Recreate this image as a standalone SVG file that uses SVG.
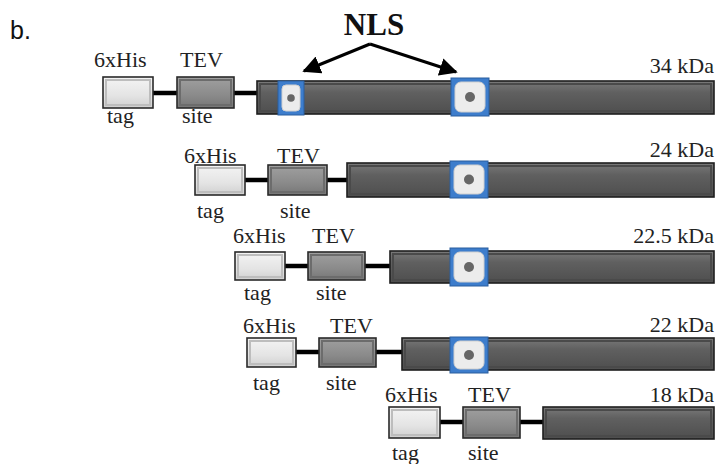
<svg xmlns="http://www.w3.org/2000/svg" width="715" height="464" viewBox="0 0 715 464">
<defs>
<linearGradient id="gTag" x1="0" y1="0" x2="0" y2="1"><stop offset="0" stop-color="#f4f4f4"/><stop offset="0.6" stop-color="#e4e4e4"/><stop offset="1" stop-color="#cfcfcf"/></linearGradient>
<linearGradient id="gTev" x1="0" y1="0" x2="0" y2="1"><stop offset="0" stop-color="#a0a0a0"/><stop offset="0.6" stop-color="#8a8a8a"/><stop offset="1" stop-color="#767676"/></linearGradient>
<linearGradient id="gBar" x1="0" y1="0" x2="0" y2="1"><stop offset="0" stop-color="#7a7a7a"/><stop offset="0.35" stop-color="#606060"/><stop offset="1" stop-color="#4e4e4e"/></linearGradient>
<marker id="ah" viewBox="0 0 10 10" refX="9" refY="5" markerWidth="6" markerHeight="6" orient="auto" markerUnits="strokeWidth"><path d="M0,0 L10,5 L0,10 z" fill="#000"/></marker>
</defs>
<style>
.tag{fill:url(#gTag);stroke:#2a2a2a;stroke-width:1.6}
.tagin{fill:none;stroke:#bdbdbd;stroke-width:2}
.tev{fill:url(#gTev);stroke:#2a2a2a;stroke-width:1.6}
.tevin{fill:none;stroke:#6c6c6c;stroke-width:2}
.bar{fill:url(#gBar);stroke:#1e1e1e;stroke-width:1.6}
.barin{fill:none;stroke:#4a4a4a;stroke-width:2}
.nls{fill:#3d7dcc;stroke:#2b5e9e;stroke-width:1}
.nlsin{fill:#ececec;stroke:#d0d0d0;stroke-width:1}
.dot{fill:#666}
.lnk{stroke:#000;stroke-width:4.5}
.lbl{font-family:"Liberation Serif","Times New Roman",serif;font-size:22px;fill:#222}
.kda{font-family:"Liberation Serif","Times New Roman",serif;font-size:22px;fill:#222;text-anchor:end}
</style>
<rect width="715" height="464" fill="#fff"/>
<text x="10" y="39" font-family="Liberation Sans, Arial, sans-serif" font-size="25" fill="#111">b.</text>
<g id="nls-label">
<text x="374" y="35" text-anchor="middle" font-family="Liberation Serif, Times New Roman, serif" font-size="31" font-weight="bold" fill="#111">NLS</text>
</g>

<g id="connectors">
<line class="lnk" x1="153" y1="93" x2="177" y2="93"/><line class="lnk" x1="234" y1="93" x2="257" y2="93"/>
<line class="lnk" x1="245" y1="180" x2="268" y2="180"/><line class="lnk" x1="327" y1="180" x2="347" y2="180"/>
<line class="lnk" x1="285" y1="266" x2="308" y2="266"/><line class="lnk" x1="365" y1="266" x2="390" y2="266"/>
<line class="lnk" x1="296" y1="352" x2="319" y2="352"/><line class="lnk" x1="376" y1="352" x2="402" y2="352"/>
<line class="lnk" x1="440" y1="422" x2="463" y2="422"/><line class="lnk" x1="520" y1="422" x2="543" y2="422"/>
<path d="M370,44 L304,71" stroke="#000" stroke-width="3" fill="none" marker-end="url(#ah)"/>
<path d="M370,44 L456,72" stroke="#000" stroke-width="3" fill="none" marker-end="url(#ah)"/>
</g>

<g id="row1">
<rect class="tag" x="103" y="77" width="50" height="31"/><rect class="tagin" x="106" y="80" width="44" height="25"/>
<rect class="tev" x="177" y="77" width="57" height="31"/><rect class="tevin" x="180" y="80" width="51" height="25"/>
<rect class="bar" x="257" y="81" width="457" height="33"/><rect class="barin" x="260" y="84" width="451" height="27"/>
<rect class="nls" x="278" y="81" width="26" height="34"/><rect class="nlsin" x="282" y="85" width="18" height="26" rx="4"/><circle class="dot" cx="291" cy="98" r="3.8"/>
<rect class="nls" x="451" y="78" width="38" height="38"/><rect class="nlsin" x="455" y="82" width="30" height="30" rx="6"/><circle class="dot" cx="470" cy="97" r="5"/>
<text class="lbl" x="94" y="67">6xHis</text><text class="lbl" x="180" y="67">TEV</text>
<text class="lbl" x="107" y="123">tag</text><text class="lbl" x="182" y="123">site</text>
<text class="kda" x="714" y="73">34 kDa</text>
</g>

<g id="row2">
<rect class="tag" x="195" y="165" width="50" height="30"/><rect class="tagin" x="198" y="168" width="44" height="24"/>
<rect class="tev" x="268" y="165" width="59" height="30"/><rect class="tevin" x="271" y="168" width="53" height="24"/>
<rect class="bar" x="347" y="163" width="367" height="34"/><rect class="barin" x="350" y="166" width="361" height="28"/>
<rect class="nls" x="450" y="161" width="38" height="37"/><rect class="nlsin" x="454" y="165" width="30" height="29" rx="6"/><circle class="dot" cx="469" cy="179.5" r="5"/>
<text class="lbl" x="184" y="163">6xHis</text><text class="lbl" x="277" y="163">TEV</text>
<text class="lbl" x="197" y="218">tag</text><text class="lbl" x="280" y="218">site</text>
<text class="kda" x="714" y="157">24 kDa</text>
</g>

<g id="row3">
<rect class="tag" x="235" y="252" width="50" height="28"/><rect class="tagin" x="238" y="255" width="44" height="22"/>
<rect class="tev" x="308" y="252" width="57" height="28"/><rect class="tevin" x="311" y="255" width="51" height="22"/>
<rect class="bar" x="390" y="251" width="324" height="32"/><rect class="barin" x="393" y="254" width="318" height="26"/>
<rect class="nls" x="450" y="248" width="38" height="38"/><rect class="nlsin" x="454" y="252" width="30" height="30" rx="6"/><circle class="dot" cx="469" cy="267" r="5"/>
<text class="lbl" x="233" y="243">6xHis</text><text class="lbl" x="312" y="243">TEV</text>
<text class="lbl" x="244" y="300">tag</text><text class="lbl" x="316" y="300">site</text>
<text class="kda" x="714" y="243">22.5 kDa</text>
</g>

<g id="row4">
<rect class="tag" x="247" y="338" width="49" height="29"/><rect class="tagin" x="250" y="341" width="43" height="23"/>
<rect class="tev" x="319" y="338" width="57" height="29"/><rect class="tevin" x="322" y="341" width="51" height="23"/>
<rect class="bar" x="402" y="338" width="312" height="32"/><rect class="barin" x="405" y="341" width="306" height="26"/>
<rect class="nls" x="450" y="337" width="38" height="36"/><rect class="nlsin" x="454" y="341" width="30" height="28" rx="6"/><circle class="dot" cx="469" cy="355" r="5"/>
<text class="lbl" x="243" y="333">6xHis</text><text class="lbl" x="330" y="333">TEV</text>
<text class="lbl" x="253" y="390">tag</text><text class="lbl" x="326" y="390">site</text>
<text class="kda" x="714" y="332">22 kDa</text>
</g>

<g id="row5">
<rect class="tag" x="389" y="407" width="51" height="31"/><rect class="tagin" x="392" y="410" width="45" height="25"/>
<rect class="tev" x="463" y="407" width="57" height="31"/><rect class="tevin" x="466" y="410" width="51" height="25"/>
<rect class="bar" x="543" y="407" width="171" height="32"/><rect class="barin" x="546" y="410" width="165" height="26"/>
<text class="lbl" x="385" y="402">6xHis</text><text class="lbl" x="468" y="402">TEV</text>
<text class="lbl" x="392" y="460">tag</text><text class="lbl" x="468" y="460">site</text>
<text class="kda" x="714" y="402">18 kDa</text>
</g>
</svg>
